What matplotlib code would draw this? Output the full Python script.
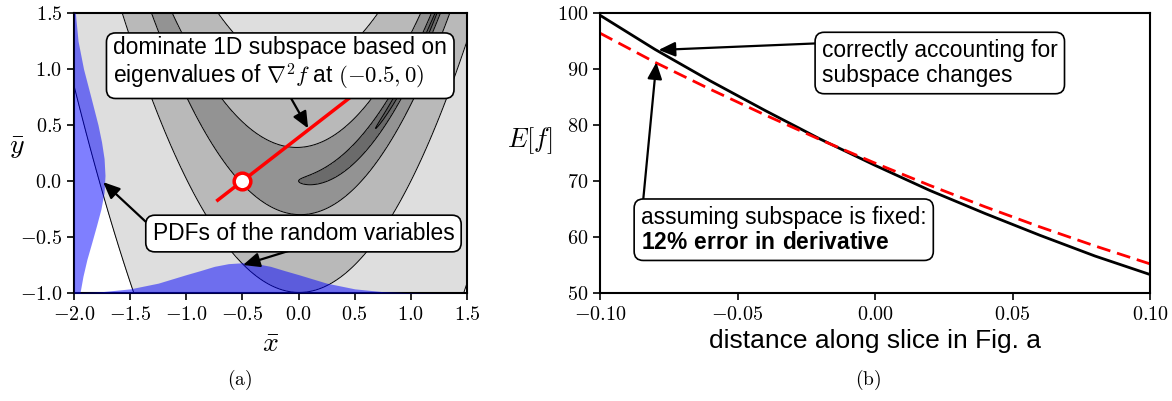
import numpy as np
import matplotlib
matplotlib.use('Agg')
import matplotlib.pyplot as plt
from matplotlib.ticker import FuncFormatter

plt.rcParams['mathtext.fontset'] = 'cm'
plt.rcParams['mathtext.rm'] = 'Liberation Sans'
plt.rcParams['mathtext.bf'] = 'Liberation Sans:bold'
plt.rcParams['font.family'] = ['Liberation Sans', 'DejaVu Sans']

# ---- panel (a): Rosenbrock-type objective in normalised coordinates ----
rosen_a = 1.0
rosen_b = 100.0
x_lim = (-2.0, 1.5)
y_lim = (-1.0, 1.5)
fill_levels = [-1.0, 0.1, 1.0, 10.0, 100.0, 1000.0]
line_levels = [0.1, 1.0, 10.0, 100.0, 1000.0]
fill_colors = ['#5c5c5c', '#6b6b6b', '#939393', '#b9b9b9', '#dedede']

# PDF along the left edge (y value, width from x=-2)
pdf_left_y = [1.5, 1.25, 1.0, 0.75, 0.5, 0.35, 0.2, 0.05, -0.1, -0.25, -0.4,
              -0.55, -0.7, -0.85, -1.0]
pdf_left_w = [0.012, 0.036, 0.085, 0.15, 0.214, 0.245, 0.268, 0.276, 0.268,
              0.24, 0.2, 0.158, 0.115, 0.08, 0.053]

# PDF along the bottom edge (x value, height from y=-1)
pdf_bot_x = [-2.0, -1.75, -1.5, -1.25, -1.0, -0.875, -0.75, -0.625, -0.5,
             -0.375, -0.25, -0.125, 0.0, 0.25, 0.5, 0.75, 1.0, 1.25, 1.5]
pdf_bot_h = [0.003, 0.012, 0.037, 0.088, 0.164, 0.2, 0.238, 0.262, 0.27,
             0.262, 0.238, 0.2, 0.164, 0.088, 0.037, 0.012, 0.003, 0.001, 0.0]

slice_x = [-0.72, 0.65]
slice_y = [-0.171, 0.894]
centre = (-0.5, 0.0)

# ---- panel (b): E[f] along the slice ----
dist = [-0.10, -0.08, -0.06, -0.04, -0.02, 0.00, 0.02, 0.04, 0.06, 0.08, 0.10]
E_correct = [99.6, 93.5, 87.9, 82.6, 77.5, 72.8, 68.3, 64.2, 60.3, 56.6, 53.3]
E_fixed = [96.4, 91.2, 86.4, 81.8, 77.4, 73.2, 69.2, 65.4, 61.8, 58.4, 55.2]

W, H = 1172, 401
fig = plt.figure(figsize=(W / 100, H / 100), dpi=100)
ax1 = fig.add_axes([74 / W, 1 - 293 / H, 393 / W, 280 / H])
ax2 = fig.add_axes([600 / W, 1 - 293 / H, 550 / W, 280 / H])

tick_fs = 14.5
box_fs = 16.4
arrow_kw = dict(arrowstyle='-|>,head_length=0.5,head_width=0.22',
                color='black', lw=1.6, mutation_scale=20,
                shrinkA=0, shrinkB=0)
bbox_kw = dict(boxstyle='round,pad=0.3,rounding_size=0.4', fc='white',
               ec='black', lw=1.2)

# panel (a)
gx = np.linspace(x_lim[0], x_lim[1], 600)
gy = np.linspace(y_lim[0], y_lim[1], 500)
X, Y = np.meshgrid(gx, gy)
F = (rosen_a - X) ** 2 + rosen_b * (Y - X ** 2) ** 2
ax1.contourf(X, Y, F, levels=fill_levels, colors=fill_colors, zorder=1)
ax1.contour(X, Y, F, levels=line_levels, colors='black', linewidths=0.7,
            zorder=2)

ax1.fill_betweenx(pdf_left_y, x_lim[0], np.array(pdf_left_w) + x_lim[0],
                  color='blue', alpha=0.5, lw=0, zorder=3)
ax1.fill_between(pdf_bot_x, y_lim[0], np.array(pdf_bot_h) + y_lim[0],
                 color='blue', alpha=0.5, lw=0, zorder=3)

ax1.plot(slice_x, slice_y, color='red', lw=2.5, zorder=4)
ax1.plot(*centre, 'o', ms=12, mfc='white', mec='red', mew=2.5, zorder=5)

ax1.annotate('', xy=(0.085, 0.47), xytext=(-0.13, 0.85),
             arrowprops=arrow_kw, zorder=6)
ax1.text(-1.65, 1.045,
         'dominate 1D subspace based on\n'
         r'eigenvalues of $\nabla^2 f$ at $(-0.5, 0)$',
         fontsize=box_fs, ha='left', va='center', linespacing=1.1,
         bbox=bbox_kw, zorder=7)

ax1.annotate('', xy=(-1.74, -0.01), xytext=(-1.29, -0.43),
             arrowprops=arrow_kw, zorder=6)
ax1.annotate('', xy=(-0.495, -0.75), xytext=(-0.01, -0.60),
             arrowprops=arrow_kw, zorder=6)
ax1.text(-1.30, -0.469, 'PDFs of the random variables',
         fontsize=box_fs, ha='left', va='center', bbox=bbox_kw, zorder=7)

ax1.set_xlim(*x_lim)
ax1.set_ylim(*y_lim)
ax1.set_xticks(np.arange(-2.0, 1.51, 0.5))
ax1.set_yticks(np.arange(-1.0, 1.51, 0.5))
ax1.xaxis.set_major_formatter(FuncFormatter(lambda v, p: f'${v:.1f}$'))
ax1.yaxis.set_major_formatter(FuncFormatter(lambda v, p: f'${v:.1f}$'))
ax1.set_xlabel(r'$\bar{x}$', fontsize=20, labelpad=6)
ax1.set_ylabel(r'$\bar{y}$', fontsize=20, rotation=0)
ax1.yaxis.set_label_coords(-0.145, 0.47)

# panel (b)
ax2.plot(dist, E_correct, color='black', lw=2)
ax2.plot(dist, E_fixed, color='red', lw=2, dashes=(5, 2.5))

ax2.annotate('', xy=(-0.0787, 93.4), xytext=(-0.015, 94.7),
             arrowprops=arrow_kw, zorder=6)
ax2.text(-0.0193, 91.07, 'correctly accounting for\nsubspace changes',
         fontsize=box_fs, ha='left', va='center', linespacing=1.1,
         bbox=bbox_kw, zorder=7)
ax2.annotate('', xy=(-0.0795, 91.2), xytext=(-0.0848, 64.0),
             arrowprops=arrow_kw, zorder=6)
ax2.text(-0.0851, 61.3, 'assuming subspace is fixed:\n'
         r'$\mathbf{12\%\ error\ in\ derivative}$', fontsize=box_fs,
         ha='left', va='center', linespacing=1.1, bbox=bbox_kw, zorder=7,
         math_fontfamily='custom')

ax2.set_xlim(-0.10, 0.10)
ax2.set_ylim(50, 100)
ax2.set_xticks(np.arange(-0.10, 0.101, 0.05))
ax2.set_yticks(np.arange(50, 101, 10))
ax2.xaxis.set_major_formatter(FuncFormatter(lambda v, p: f'${v:.2f}$'))
ax2.yaxis.set_major_formatter(FuncFormatter(lambda v, p: f'${v:.0f}$'))
ax2.set_xlabel('distance along slice in Fig. a', fontsize=19, labelpad=4)
ax2.set_ylabel(r'$E[f]$', fontsize=19, rotation=0)
ax2.yaxis.set_label_coords(-0.128, 0.49)

for ax in (ax1, ax2):
    ax.tick_params(direction='out', length=5, width=1.2, labelsize=tick_fs,
                   top=False, right=False)
    for s in ax.spines.values():
        s.set_linewidth(1.5)

fig.text(240 / W, 1 - 380 / H, r'$\mathrm{(a)}$', fontsize=14,
         ha='center', va='center')
fig.text(868 / W, 1 - 380 / H, r'$\mathrm{(b)}$', fontsize=14,
         ha='center', va='center')

fig.savefig('out.png', dpi=100)
